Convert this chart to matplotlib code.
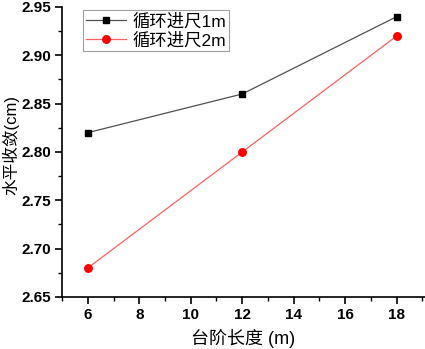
import matplotlib
matplotlib.use("Agg")
import matplotlib.pyplot as plt
from matplotlib.ticker import MultipleLocator

plt.rcParams['font.family'] = ['Liberation Sans', 'Noto Sans CJK SC', 'DejaVu Sans']

x = [6, 12, 18]
s1 = [2.82, 2.86, 2.94]
s2 = [2.68, 2.80, 2.92]
labels = ['循环进尺1m', '循环进尺2m']

fig = plt.figure(figsize=(4.25, 3.49), dpi=100)
ax = fig.add_axes([0.146, 0.149, 0.854, 0.831])
ax.plot(x, s1, color='#505050', lw=0.9, marker='s', ms=4.6, mfc='black', mec='black', label=labels[0])
ax.plot(x, s2, color='#ff6060', lw=0.9, marker='o', ms=5.4, mfc='red', mec='red', label=labels[1])

ax.set_xlim(5, 19.1)
ax.set_ylim(2.65, 2.95)
ax.xaxis.set_major_locator(MultipleLocator(2))
ax.xaxis.set_minor_locator(MultipleLocator(1))
ax.yaxis.set_major_locator(MultipleLocator(0.05))
ax.yaxis.set_minor_locator(MultipleLocator(0.025))
ax.yaxis.set_major_formatter(matplotlib.ticker.FormatStrFormatter('%.2f'))
ax.spines['top'].set_visible(False)
ax.spines['right'].set_visible(False)
for s in ['left', 'bottom']:
    ax.spines[s].set_linewidth(1.2)
ax.tick_params(which='major', direction='out', length=5, width=1.2, labelsize=11, pad=3)
ax.tick_params(which='minor', direction='out', length=3, width=1)
for t in ax.get_xticklabels() + ax.get_yticklabels():
    t.set_fontweight('bold')

ax.set_xlabel('台阶长度 (m)', fontsize=13, labelpad=5)
ax.set_ylabel('水平收敛(cm)', fontsize=12)
ax.yaxis.set_label_coords(-0.118, 0.525)

leg = ax.legend(loc='upper left', bbox_to_anchor=(0.058, 0.988), fontsize=12.5, frameon=True,
                fancybox=False, edgecolor='#888888', handlelength=2.3, borderpad=0.15,
                labelspacing=0.15, handletextpad=0.4, borderaxespad=0)
leg.get_frame().set_linewidth(0.8)

fig.savefig('out.png', dpi=100)
